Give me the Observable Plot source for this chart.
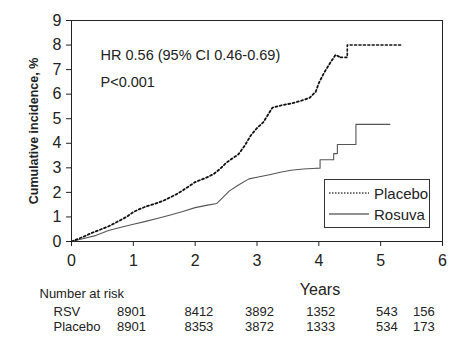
<!DOCTYPE html>
<html>
<head>
<meta charset="utf-8">
<script src="https://cdn.jsdelivr.net/npm/d3@7"></script>
<script src="https://cdn.jsdelivr.net/npm/@observablehq/plot@0.6"></script>
<style>
  body { margin: 0; background: #fff; font-family: "Liberation Sans", Arial, sans-serif; }
  #wrap { position: relative; width: 467px; height: 352px; }
  #legend { position: absolute; left: 324px; top: 179px; width: 104px; height: 47px;
            border: 1px solid #333; background: #fff; color: #222; font-size: 15px; }
  #legend .row { position: absolute; left: 4px; height: 18px; display: flex; align-items: center; }
  #legend svg { margin-right: 5px; }
</style>
</head>
<body>
<div id="wrap"></div>
<script>
// Placebo cumulative incidence (%) by years
const placeboT = [0,0.1,0.2,0.3,0.4,0.5,0.6,0.7,0.8,0.9,1.0,1.1,1.2,1.3,1.4,1.5,1.6,1.7,1.8,1.9,2.0,2.1,2.2,2.3,2.4,2.5,2.6,2.7,2.8,2.9,3.0,3.1,3.2,3.25,3.4,3.55,3.7,3.85,3.95,4.0,4.08,4.19,4.27,4.35,4.46,5.36];
const placeboV = [0,0.1,0.2,0.32,0.42,0.52,0.62,0.75,0.88,1.02,1.2,1.32,1.42,1.5,1.58,1.68,1.8,1.93,2.08,2.25,2.42,2.52,2.62,2.75,2.95,3.2,3.38,3.55,3.9,4.32,4.62,4.85,5.25,5.45,5.55,5.62,5.72,5.85,6.1,6.45,6.85,7.3,7.6,7.5,8.0,8.0];
// Rosuvastatin
const rosuvaT = [0,0.2,0.4,0.6,0.8,1.0,1.2,1.4,1.6,1.8,2.0,2.2,2.35,2.45,2.55,2.7,2.87,3.0,3.2,3.38,3.55,3.75,3.97,4.02,4.24,4.3,4.6,5.15];
const rosuvaV = [0,0.12,0.25,0.45,0.58,0.7,0.82,0.95,1.08,1.22,1.38,1.48,1.55,1.8,2.05,2.3,2.55,2.62,2.72,2.82,2.9,2.95,2.98,3.33,3.58,3.95,4.77,4.77];

const xTicks = [0,1,2,3,4,5,6];
const yTicks = [0,1,2,3,4,5,6,7,8,9];

// Number at risk table
const riskX = [0.97, 2.06, 3.04, 4.03, 5.1, 5.7];
const riskRSV = [8901, 8412, 3892, 1352, 543, 156];
const riskPlacebo = [8901, 8353, 3872, 1333, 534, 173];

const placebo = placeboT.map((t, i) => ({t, v: placeboV[i]}));
const rosuva = rosuvaT.map((t, i) => ({t, v: rosuvaV[i]}));
const rsvRow = riskX.map((x, i) => ({x, n: riskRSV[i]}));
const plaRow = riskX.map((x, i) => ({x, n: riskPlacebo[i]}));

// early part drawn as a fine jagged line, late part as visible steps
const placeboEarly = placebo.filter(d => d.t <= 4.35);
const placeboLate = placebo.filter(d => d.t >= 4.35);
const rosuvaEarly = rosuva.filter(d => d.t <= 3.97);
const rosuvaLate = rosuva.filter(d => d.t >= 3.97);

const ink = "#222";
const font = "Liberation Sans, Arial, sans-serif";

const chart = Plot.plot({
  width: 467,
  height: 352,
  marginLeft: 71,
  marginRight: 25,
  marginTop: 20,
  marginBottom: 111,
  style: {fontFamily: font, fontSize: "16px", color: ink, background: "#fff"},
  x: {domain: [0, 6], ticks: xTicks, tickFormat: "d", tickSize: 5, tickPadding: 8, label: null},
  y: {domain: [0, 9], ticks: yTicks, tickFormat: "d", tickSize: 5, tickPadding: 5, label: null},
  marks: [
    Plot.line(rosuvaEarly, {x: "t", y: "v", curve: "linear", stroke: "#555", strokeWidth: 1.1}),
    Plot.line(rosuvaLate, {x: "t", y: "v", curve: "step-after", stroke: "#555", strokeWidth: 1.1}),
    Plot.line(placeboEarly, {x: "t", y: "v", curve: "linear", stroke: "#111", strokeWidth: 1.8, strokeDasharray: "2,2.4"}),
    Plot.line(placeboLate, {x: "t", y: "v", curve: "step-after", stroke: "#111", strokeWidth: 1.6, strokeDasharray: "2,2.4"}),
    Plot.frame({stroke: ink, strokeWidth: 1}),
    Plot.text(["HR 0.56 (95% CI 0.46-0.69)"], {frameAnchor: "top-left", dx: 29, dy: 29, textAnchor: "start", fontSize: 14.5, fill: ink}),
    Plot.text(["P<0.001"], {frameAnchor: "top-left", dx: 29, dy: 56, textAnchor: "start", fontSize: 14.5, fill: ink}),
    Plot.text(["Cumulative incidence, %"], {frameAnchor: "left", dx: -38, rotate: -90, textAnchor: "middle", fontSize: 12.5, fontWeight: "bold", fill: ink}),
    Plot.text(["Years"], {frameAnchor: "bottom", dx: 63, dy: 53, fontSize: 16, fill: ink}),
    Plot.text(["Number at risk"], {frameAnchor: "bottom-left", dx: -32, dy: 56, textAnchor: "start", fontSize: 13, fill: ink}),
    Plot.text(["RSV"], {frameAnchor: "bottom-left", dx: -18, dy: 74, textAnchor: "start", fontSize: 13, fill: ink}),
    Plot.text(["Placebo"], {frameAnchor: "bottom-left", dx: -18, dy: 89, textAnchor: "start", fontSize: 13, fill: ink}),
    Plot.text(rsvRow, {x: "x", frameAnchor: "bottom", dy: 74, text: d => String(d.n), fontSize: 13, fill: ink}),
    Plot.text(plaRow, {x: "x", frameAnchor: "bottom", dy: 89, text: d => String(d.n), fontSize: 13, fill: ink})
  ]
});

const wrap = document.getElementById("wrap");
wrap.appendChild(chart);

const legend = document.createElement("div");
legend.id = "legend";
legend.innerHTML = `
  <div class="row" style="top:4px"><svg width="40" height="4"><line x1="0" x2="40" y1="2" y2="2" stroke="#444" stroke-width="1.4" stroke-dasharray="1.5,1.5"/></svg><span>Placebo</span></div>
  <div class="row" style="top:25px"><svg width="40" height="4"><line x1="0" x2="40" y1="2" y2="2" stroke="#222" stroke-width="1"/></svg><span>Rosuva</span></div>`;
wrap.appendChild(legend);
</script>
</body>
</html>
